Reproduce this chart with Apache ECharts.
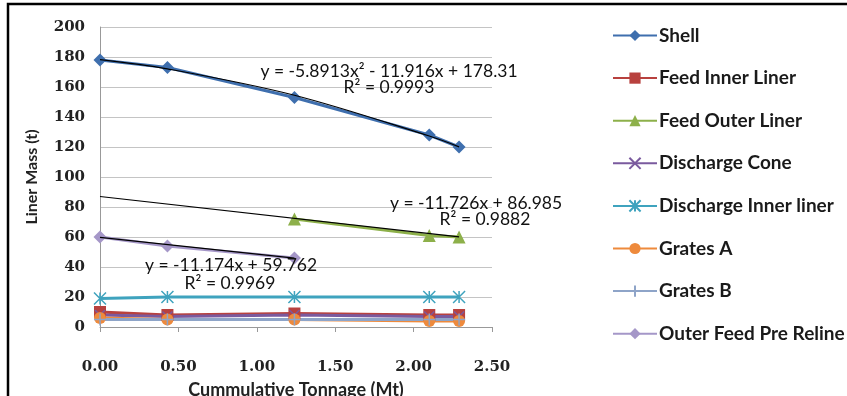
<!DOCTYPE html>
<html>
<head>
<meta charset="utf-8">
<script src="https://cdn.jsdelivr.net/npm/echarts@6/dist/echarts.min.js"></script>
<style>
  html, body { margin: 0; padding: 0; background: #fff; }
  #chart { width: 847px; height: 396px; }
</style>
</head>
<body>
<div id="chart"></div>
<script>
// valores
const tonnage = [0, 0.43, 1.24, 2.10, 2.29];
const shell = [178, 173, 153, 128, 120];
const feedInner = [10, 8, 9, 8, 8];
const feedOuter = [null, null, 72, 61, 60];
const dischargeCone = [8, 7, 8, 7, 7];
const dischargeInner = [19, 20, 20, 20, 20];
const gratesA = [6, 5, 5, 4, 4];
const gratesB = [5, 5, 5, 5, 5];
const outerFeed = [60, 54, 46, null, null];

// lineas de tendencia
const shellTrendX = [0, 0.43, 1.24, 2.10, 2.29];
const shellTrend = [178.3, 172.1, 154.5, 127.3, 120.1];
const feedOuterTrendX = [0, 2.29];
const feedOuterTrend = [87.0, 60.1];
const outerFeedTrendX = [0, 1.24];
const outerFeedTrend = [59.8, 45.9];

const seriesNames = ['Shell', 'Feed Inner Liner', 'Feed Outer Liner', 'Discharge Cone',
    'Discharge Inner liner', 'Grates A', 'Grates B', 'Outer Feed Pre Reline'];
const yTicks = [0, 20, 40, 60, 80, 100, 120, 140, 160, 180, 200];
const xTicks = [0, 0.5, 1, 1.5, 2, 2.5];

const pares = (xs, ys) => xs.map((x, i) => [x, ys[i]]).filter(p => p[1] !== null);

const myChart = echarts.init(document.getElementById('chart'));

function serie(name, values, color, symbol, size, extra) {
    return Object.assign({
        name: name,
        type: 'line',
        data: pares(tonnage, values),
        symbol: symbol,
        symbolSize: size,
        lineStyle: { color: color, width: 3 },
        itemStyle: { color: color },
        emphasis: { disabled: true },
        z: 2
    }, extra || {});
}

function tendencia(xs, ys, smooth) {
    return {
        name: 'trend',
        type: 'line',
        data: pares(xs, ys),
        showSymbol: false,
        symbol: 'none',
        smooth: smooth,
        lineStyle: { color: '#000', width: 1.2 },
        emphasis: { disabled: true },
        z: 5
    };
}

const starPath = 'path://M0,0L10,10M10,0L0,10M5,0L5,10';
const crossPath = 'path://M0,0L10,10M10,0L0,10';
const plusPath = 'path://M5,0L5,10M0,5L10,5';
const txt = { fontFamily: 'Lato', fontSize: 17.5, fill: '#111' };

let option = {
    animation: false,
    backgroundColor: '#fff',
    grid: { left: 100, right: 355, top: 27, bottom: 69, outerBoundsMode: 'none' },
    legend: {
        data: seriesNames,
        orient: 'vertical',
        left: 607,
        top: 21,
        itemWidth: 44,
        itemHeight: 14,
        itemGap: 23.6,
        textStyle: { fontFamily: 'Lato', fontWeight: 'bold', fontSize: 19, color: '#1a1a1a', padding: [0, 0, 0, -3] },
        selectedMode: false
    },
    xAxis: {
        type: 'value',
        min: 0,
        max: 2.5,
        interval: 0.5,
        name: 'Cummulative Tonnage (Mt)',
        nameLocation: 'middle',
        nameGap: 54,
        nameTextStyle: { fontFamily: 'Lato', fontWeight: 'bold', fontSize: 18, color: '#222' },
        axisLine: { lineStyle: { color: '#999' } },
        axisTick: { show: true, length: 5, lineStyle: { color: '#999' } },
        splitLine: { show: false },
        axisLabel: {
            margin: 33,
            fontFamily: 'DejaVu Serif', fontWeight: 'bold', fontSize: 15, color: '#222',
            formatter: v => xTicks.includes(v) ? v.toFixed(2) : ''
        }
    },
    yAxis: {
        type: 'value',
        min: 0,
        max: 200,
        interval: 20,
        name: 'Liner Mass (t)',
        nameLocation: 'middle',
        nameGap: 60,
        nameTextStyle: { fontFamily: 'Lato', fontWeight: 'bold', fontSize: 16, color: '#222' },
        axisLine: { show: true, lineStyle: { color: '#999' } },
        axisTick: { show: false },
        splitLine: { show: true, lineStyle: { color: '#c4c4c4' } },
        axisLabel: {
            margin: 15,
            fontFamily: 'DejaVu Serif', fontWeight: 'bold', fontSize: 15, color: '#222',
            formatter: v => yTicks.includes(v) ? String(v) : ''
        }
    },
    series: [
        serie('Shell', shell, '#3F6FAE', 'diamond', 13),
        serie('Feed Inner Liner', feedInner, '#B8413E', 'rect', 12),
        serie('Feed Outer Liner', feedOuter, '#8DB04A', 'triangle', 13),
        serie('Discharge Cone', dischargeCone, '#7A5A9E', crossPath, 10,
            { itemStyle: { color: '#7A5A9E', borderColor: '#7A5A9E', borderWidth: 1.5 } }),
        serie('Discharge Inner liner', dischargeInner, '#3FA3BE', starPath, 12,
            { itemStyle: { color: '#3FA3BE', borderColor: '#3FA3BE', borderWidth: 1.5 } }),
        serie('Grates A', gratesA, '#EE8A3C', 'circle', 12),
        serie('Grates B', gratesB, '#8EA4C8', plusPath, 12,
            { itemStyle: { color: '#8EA4C8', borderColor: '#8EA4C8', borderWidth: 1.5 } }),
        serie('Outer Feed Pre Reline', outerFeed, '#A597C8', 'diamond', 13),
        tendencia(shellTrendX, shellTrend, 0.35),
        tendencia(feedOuterTrendX, feedOuterTrend, false),
        tendencia(outerFeedTrendX, outerFeedTrend, false)
    ],
    graphic: [
        { type: 'rect', shape: { x: 8, y: 4, width: 900, height: 500 }, style: { fill: 'none', stroke: '#000', lineWidth: 2.5 }, silent: true },
        { type: 'text', x: 389, y: 71, style: Object.assign({ text: 'y = -5.8913x² - 11.916x + 178.31', align: 'center', verticalAlign: 'middle' }, txt), z: 10 },
        { type: 'text', x: 389, y: 87, style: Object.assign({ text: 'R² = 0.9993', align: 'center', verticalAlign: 'middle' }, txt), z: 10 },
        { type: 'text', x: 476, y: 203, style: Object.assign({ text: 'y = -11.726x + 86.985', align: 'center', verticalAlign: 'middle' }, txt), z: 10 },
        { type: 'text', x: 485, y: 219, style: Object.assign({ text: 'R² = 0.9882', align: 'center', verticalAlign: 'middle' }, txt), z: 10 },
        { type: 'text', x: 231, y: 265, style: Object.assign({ text: 'y = -11.174x + 59.762', align: 'center', verticalAlign: 'middle' }, txt), z: 10 },
        { type: 'text', x: 230, y: 283, style: Object.assign({ text: 'R² = 0.9969', align: 'center', verticalAlign: 'middle' }, txt), z: 10 }
    ]
};

myChart.setOption(option);
</script>
</body>
</html>
